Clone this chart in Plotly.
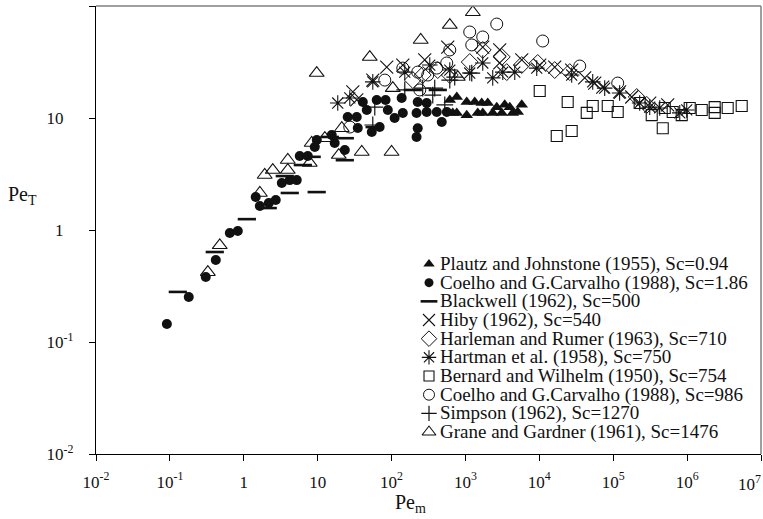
import plotly.graph_objects as go

# ---------------- data ----------------
plautz_x = [614, 673, 763, 763, 1041, 1041, 1336, 1467, 1660, 1714, 2003, 2340, 2652, 3100, 3403, 3980, 4370, 5100, 5780]
plautz_y = [14.5, 11.1, 15.4, 11.1, 13.9, 10.6, 13.9, 11.1, 13.6, 11.1, 13.6, 11.1, 12.5, 11.1, 13.1, 12.5, 11.1, 11.3, 13.1]

coelho1_x = [0.091, 0.18, 0.306, 0.418, 0.647, 0.83, 1.45, 1.65, 2.18, 2.71, 3.27, 4.19, 5.21, 5.72, 7.35, 9.14, 9.73,
             15.5, 17.0, 23.3, 25.5, 33.8, 34.9, 40.8, 46.2, 54.0, 63, 69, 83, 89, 110, 137, 142, 218, 226, 226, 218,
             299, 299, 409, 478, 560]
coelho1_y = [0.145, 0.252, 0.38, 0.54, 0.94, 0.98, 1.97, 1.64, 1.74, 1.85, 2.63, 2.79, 2.79, 4.58, 4.58, 5.51, 6.36,
             7.05, 5.98, 5.18, 10.2, 10.2, 8.14, 13.9, 11.8, 7.5, 14.5, 8.3, 14.5, 11.8, 10.0, 15.1, 11.1, 11.1, 13.9, 8.1, 6.77,
             13.6, 11.3, 11.3, 9.2, 11.3]

blackwell_x = [0.128, 0.405, 1.1, 2.11, 4.19, 9.7, 3.59, 6.3, 8.3, 14.6, 23.3, 23.3, 59, 194, 422]
blackwell_y = [0.28, 0.636, 1.25, 1.57, 2.14, 2.18, 3.03, 3.8, 4.5, 6.77, 4.2, 6.6, 8.3, 17.8, 17.8]

hiby_x = [29.9, 33.8, 55.7, 86, 142, 281, 576, 1714, 2911, 2911, 5780, 10120, 16150, 27400, 41100, 56200, 72100,
          122000, 178000, 312000, 546000]
hiby_y = [17.1, 14.5, 21.8, 28.5, 29.7, 33.0, 43.0, 43.0, 40.5, 31.0, 33.0, 29.7, 28.5, 26.8, 22.8, 20.5, 18.9,
          17.1, 15.4, 13.6, 13.1]

harleman_x = [194, 264, 422, 614, 1143, 1714, 3100, 3620, 5780, 9510, 16150, 25800, 208000, 284000]
harleman_y = [21.8, 24.2, 26.8, 24.2, 31.6, 40.5, 35.1, 25.7, 29.7, 31.0, 26.8, 25.7, 15.4, 13.1]

hartman_x = [18.7, 27.2, 55.7, 151, 329, 614, 1143, 1714, 2340, 3200, 4650, 9220, 27400, 52800, 76700, 122000,
             228000, 312000, 426000, 795000, 988000]
hartman_y = [13.6, 15.1, 21.0, 25.7, 29.7, 26.8, 25.2, 31.0, 22.8, 25.7, 25.7, 27.9, 24.2, 21.0, 18.5, 16.7,
             13.6, 12.5, 12.3, 11.1, 11.8]

bernard_x = [10120, 17200, 24200, 27400, 43800, 52800, 84300, 115000, 228000, 332000, 468000, 498000, 638000,
             845000, 1084000, 1577000, 2362000, 2362000, 3540000, 5480000]
bernard_y = [17.4, 6.9, 13.9, 7.66, 11.1, 12.8, 12.8, 11.3, 13.6, 10.6, 8.1, 12.3, 11.3, 10.6, 12.3, 11.8, 12.5,
             11.1, 12.3, 12.8]

coelho2_x = [27.2, 81, 142, 226, 241, 309, 409, 558, 614, 1143, 1217, 1714, 2652, 11100, 35200, 115000]
coelho2_y = [8.3, 21.8, 27.9, 25.7, 17.8, 24.2, 27.9, 31.0, 40.5, 58.6, 44.9, 52.9, 69.0, 48.7, 29.1, 20.5]

simpson_x = [55.7, 59.3, 151, 264, 361, 384, 525, 614, 716, 1217]
simpson_y = [8.66, 12.5, 17.8, 18.5, 16.0, 18.5, 13.1, 21.8, 23.2, 25.2]

grane_x = [0.326, 0.473, 1.65, 1.92, 2.47, 3.94, 3.94, 7.8, 8.3, 12.5, 9.7, 19.3, 21.2, 39.5, 50.7, 100, 104,
           248, 614, 787, 1259]
grane_y = [0.42, 0.73, 2.14, 3.1, 3.43, 4.22, 3.43, 3.97, 5.98, 6.6, 25.2, 4.67, 8.1, 4.97, 35.0, 4.97, 18.5,
           49.7, 67.6, 23.2, 88.0]

series_names = [
    "Plautz and Johnstone (1955), Sc=0.94",
    "Coelho and G.Carvalho (1988), Sc=1.86",
    "Blackwell (1962), Sc=500",
    "Hiby (1962), Sc=540",
    "Harleman and Rumer (1963), Sc=710",
    "Hartman et al. (1958), Sc=750",
    "Bernard and Wilhelm (1950), Sc=754",
    "Coelho and G.Carvalho (1988), Sc=986",
    "Simpson (1962), Sc=1270",
    "Grane and Gardner (1961), Sc=1476",
]

x_tickvals = [1e-2, 1e-1, 1, 10, 1e2, 1e3, 1e4, 1e5, 1e6, 1e7]
x_ticktext = ["10<sup>-2</sup>", "10<sup>-1</sup>", "1", "10", "10<sup>2</sup>", "10<sup>3</sup>",
              "10<sup>4</sup>", "10<sup>5</sup>", "10<sup>6</sup>", "10<sup>7</sup>"]
y_tickvals = [1e-2, 1e-1, 1, 10, 1e2]
y_ticktext = ["10<sup>-2</sup>", "10<sup>-1</sup>", "1", "10", "10<sup>2</sup>"]

# ---------------- styles ----------------
INK = "#111111"
styles = [
    dict(symbol="triangle-up", size=11, color=INK, line=dict(width=0)),
    dict(symbol="circle", size=10, color=INK, line=dict(width=0)),
    dict(symbol="line-ew-open", size=13, color=INK, line=dict(width=2.6, color=INK)),
    dict(symbol="x-thin-open", size=13, color=INK, line=dict(width=1.1, color=INK)),
    dict(symbol="diamond-open", size=13, color=INK, line=dict(width=1.0, color=INK)),
    dict(symbol="asterisk-open", size=13, color=INK, line=dict(width=1.1, color=INK)),
    dict(symbol="square-open", size=11, color=INK, line=dict(width=1.1, color="#333333")),
    dict(symbol="circle-open", size=12, color=INK, line=dict(width=1.0, color=INK)),
    dict(symbol="cross-thin-open", size=12, color=INK, line=dict(width=1.2, color=INK)),
    dict(symbol="triangle-up-open", size=13, color=INK, line=dict(width=1.1, color=INK)),
]

data = [
    (plautz_x, plautz_y), (coelho1_x, coelho1_y), (blackwell_x, blackwell_y), (hiby_x, hiby_y),
    (harleman_x, harleman_y), (hartman_x, hartman_y), (bernard_x, bernard_y), (coelho2_x, coelho2_y),
    (simpson_x, simpson_y), (grane_x, grane_y),
]

fig = go.Figure()
for name, (xs, ys), st in zip(series_names, data, styles):
    fig.add_trace(go.Scatter(x=xs, y=ys, mode="markers", name=name, marker=st,
                             showlegend=False, xaxis="x", yaxis="y"))

# ---------------- custom legend (pixel-coordinate overlay axes) ----------------
FIG_W, FIG_H = 763, 519
ML, MR, MT, MB = 96, 2, 6, 65
PW, PH = FIG_W - ML - MR, FIG_H - MT - MB
leg_marker_x = 429
leg_text_x = 439
leg_y0 = 264
leg_dy = 18.67
serif = "Liberation Serif, Times New Roman, Times, serif"


def px2paper(px, py):
    return (px - ML) / PW, (FIG_H - MB - py) / PH


for i, (name, st) in enumerate(zip(series_names, styles)):
    yy = leg_y0 + i * leg_dy
    m = dict(st)
    m["size"] = max(st["size"] - 1, 9)
    fig.add_trace(go.Scatter(x=[leg_marker_x], y=[yy], mode="markers", marker=m,
                             showlegend=False, xaxis="x2", yaxis="y2", hoverinfo="skip"))
    fig.add_annotation(x=leg_text_x, y=yy, xref="x2", yref="y2", text=name, showarrow=False,
                       xanchor="left", yanchor="middle", borderpad=0,
                       font=dict(family=serif, size=19, color=INK))

# axis titles and the edge tick label (paper coordinates)
tx, ty = px2paper(6, 195)
fig.add_annotation(x=tx, y=ty, xref="paper", yref="paper", text="Pe<sub>T</sub>", showarrow=False,
                   xanchor="left", yanchor="middle", font=dict(family=serif, size=20, color=INK))
tx, ty = px2paper(410, 503)
fig.add_annotation(x=tx, y=ty, xref="paper", yref="paper", text="Pe<sub>m</sub>", showarrow=False,
                   xanchor="center", yanchor="middle", font=dict(family=serif, size=20, color=INK))
tx, ty = px2paper(762, 483)
fig.add_annotation(x=tx, y=ty, xref="paper", yref="paper", text=x_ticktext[-1], showarrow=False,
                   xanchor="right", yanchor="middle", borderpad=0,
                   font=dict(family=serif, size=17, color=INK))
x_ticktext_axis = x_ticktext[:-1] + [""]

# y labels without exponent get an invisible exponent so the base numbers line up
ghost = "<sup><span style='color:rgba(0,0,0,0)'>-1</span></sup>"
y_ticktext_axis = [t if "<sup>" in t else t + ghost for t in y_ticktext]

fig.update_layout(
    width=FIG_W, height=FIG_H,
    margin=dict(l=ML, r=MR, t=MT, b=MB),
    paper_bgcolor="white", plot_bgcolor="white",
    showlegend=False,
    font=dict(family=serif, size=17, color=INK),
    xaxis=dict(type="log", range=[-2, 7], tickvals=x_tickvals, ticktext=x_ticktext_axis,
               showgrid=False, zeroline=False, showline=True, linecolor="black", linewidth=1.3,
               ticks="outside", ticklen=6, tickwidth=1.2, tickcolor="black",
               tickfont=dict(family=serif, size=17, color=INK), ticklabelstandoff=6),
    yaxis=dict(type="log", range=[-2, 2], tickvals=y_tickvals, ticktext=y_ticktext_axis,
               showgrid=False, zeroline=False, showline=True, linecolor="black", linewidth=1.3,
               ticks="outside", ticklen=6, tickwidth=1.2, tickcolor="black",
               tickfont=dict(family=serif, size=17, color=INK), ticklabelstandoff=12),
    xaxis2=dict(overlaying="x", anchor="y2", range=[ML, FIG_W - MR], visible=False, fixedrange=True),
    yaxis2=dict(overlaying="y", anchor="x2", range=[FIG_H - MB, MT], visible=False, fixedrange=True),
    shapes=[
        dict(type="line", xref="paper", yref="paper", x0=0, x1=1, y0=1, y1=1,
             line=dict(color="#808080", width=1.5)),
        dict(type="line", xref="paper", yref="paper", x0=1, x1=1, y0=0, y1=1,
             line=dict(color="#808080", width=1.5)),
    ],
)

fig.write_html("out.html")
